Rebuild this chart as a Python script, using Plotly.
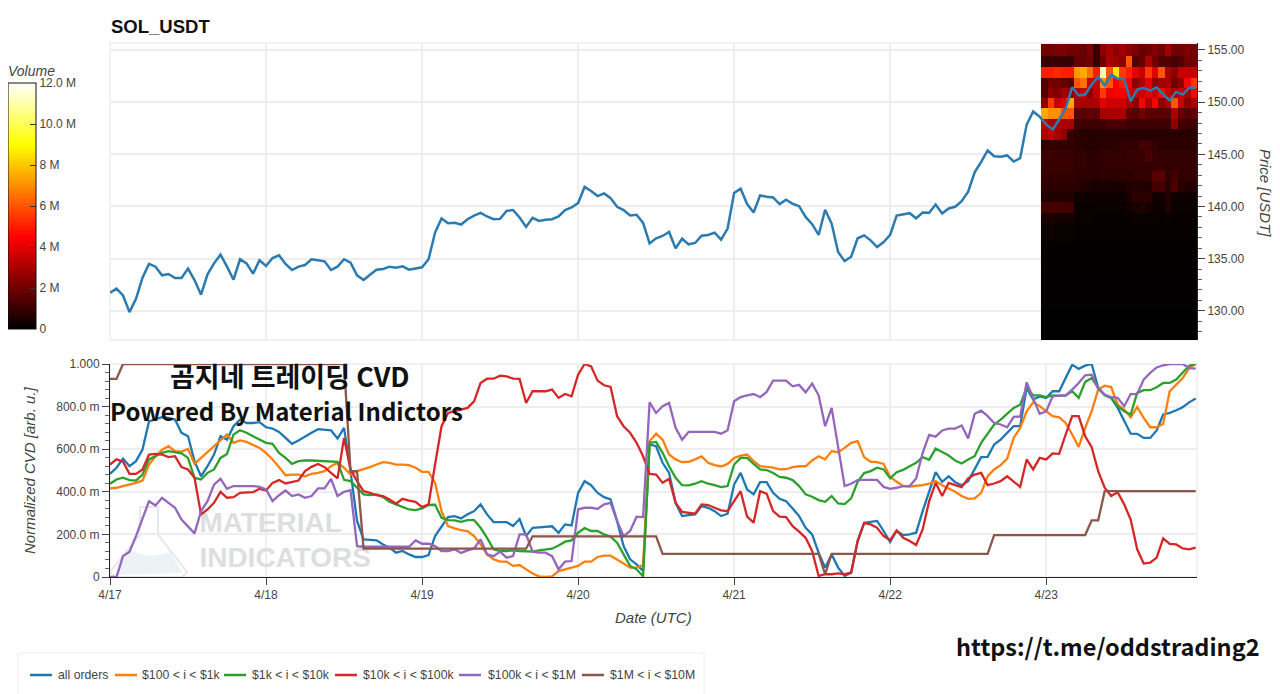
import pandas as pd
import plotly.graph_objects as go
from plotly.subplots import make_subplots

# hourly candles, 4/17 00:00 onwards
price = [131.73, 132.12, 131.47, 129.87, 131.15, 133.17, 134.49, 134.23, 133.40, 133.53, 133.14, 133.14,
         134.04, 132.95, 131.54, 133.49, 134.55, 135.38, 134.23, 132.98, 134.94, 134.55, 133.56, 134.84,
         134.29, 135.06, 135.32, 134.49, 133.91, 134.23, 134.39, 134.94, 134.84, 134.74, 133.91, 134.23,
         134.94, 134.62, 133.40, 132.95, 133.46, 133.94, 134.01, 134.23, 134.13, 134.26, 133.94, 134.04,
         134.17, 134.94, 137.50, 138.85, 138.40, 138.43, 138.27, 138.78, 139.13, 139.39, 139.04, 138.78,
         138.81, 139.58, 139.65, 138.94, 138.04, 138.91, 138.62, 138.72, 138.78, 139.04, 139.65, 139.90,
         140.32, 141.87, 141.48, 141.00, 141.25, 140.80, 139.97, 139.65, 139.13, 139.20, 138.42, 136.46,
         136.95, 137.17, 137.56, 135.98, 136.91, 136.37, 136.50, 137.20, 137.27, 137.49, 136.82, 137.88,
         141.29, 141.70, 140.23, 139.42, 141.06, 140.93, 140.87, 140.23, 140.64, 140.26, 140.03, 139.00,
         138.30, 137.27, 139.68, 138.36, 135.63, 134.76, 135.18, 136.95, 137.23, 136.75, 136.11, 136.59,
         137.27, 139.13, 139.23, 139.36, 138.87, 139.42, 139.39, 140.19, 139.32, 139.81, 139.97, 140.51,
         141.41, 143.28, 144.28, 145.37, 144.82, 144.76, 144.89, 144.31, 144.63, 147.85, 149.10, 148.60,
         147.87, 147.39, 148.34, 149.39, 151.43, 150.64, 150.73, 151.69, 152.42, 151.62, 152.64, 152.23,
         152.23, 150.06, 151.21, 151.37, 151.11, 151.43, 150.73, 150.16, 150.99, 150.73, 151.37, 151.37]

all_orders = [.484, .513, .556, .520, .544, .598, .731, .739, .750, .747, .739, .677, .661, .544, .473, .520,
              .575, .661, .645, .708, .739, .723, .723, .727, .703, .697, .681, .653, .625, .641, .661, .677,
              .694, .692, .688, .650, .700, .497, .263, .177, .173, .172, .153, .138, .114, .122, .106, .094,
              .094, .103, .192, .239, .281, .286, .275, .294, .309, .341, .294, .258, .258, .258, .239, .272,
              .192, .231, .233, .234, .238, .208, .247, .242, .395, .450, .431, .395, .375, .364, .263, .145,
              .083, .059, .028, .622, .614, .536, .489, .348, .286, .291, .294, .333, .325, .309, .286, .297,
              .434, .489, .411, .388, .445, .445, .395, .367, .356, .322, .286, .231, .200, .114, .044, .106,
              .044, .005, .020, .169, .255, .259, .263, .216, .164, .216, .197, .200, .208, .309, .403, .492,
              .447, .473, .445, .431, .450, .505, .563, .564, .622, .645, .677, .708, .708, .888, .833, .848,
              .841, .872, .872, .934, .997, .977, .992, 1.0, .888, .856, .841, .794, .731, .673, .672, .653,
              .653, .688, .763, .770, .783, .797, .820, .838]
orders_100_1k = [.416, .419, .427, .434, .442, .453, .528, .567, .598, .614, .591, .588, .602, .531, .559, .586,
                 .614, .645, .669, .630, .641, .634, .619, .606, .583, .552, .516, .478, .481, .481, .473, .484,
                 .489, .497, .520, .536, .513, .481, .497, .505, .516, .528, .539, .536, .528, .528, .525, .513,
                 .494, .494, .442, .309, .239, .228, .220, .216, .192, .153, .106, .083, .072, .072, .052, .056,
                 .036, .016, .003, 0, .003, .028, .036, .044, .052, .072, .072, .094, .100, .100, .083, .063,
                 .044, .044, .056, .638, .673, .645, .575, .552, .539, .541, .552, .566, .536, .525, .519, .531,
                 .559, .570, .575, .544, .520, .516, .513, .505, .506, .516, .520, .520, .547, .567, .552, .591,
                 .586, .606, .630, .638, .563, .541, .539, .531, .469, .447, .427, .425, .427, .431, .438, .450,
                 .431, .416, .400, .380, .367, .369, .395, .473, .505, .525, .556, .653, .700, .778, .820, .802,
                 .778, .755, .750, .723, .669, .611, .700, .778, .880, .898, .892, .809, .786, .750, .798, .747,
                 .703, .703, .719, .872, .903, .934, .981, 1.0]
orders_1k_10k = [.438, .458, .466, .455, .453, .481, .552, .567, .583, .591, .586, .581, .559, .466, .458, .489,
                 .505, .559, .578, .669, .689, .677, .661, .645, .630, .625, .583, .559, .531, .544, .548, .547,
                 .545, .544, .544, .541, .456, .450, .419, .388, .384, .388, .375, .353, .341, .330, .317, .314,
                 .322, .338, .339, .278, .267, .266, .259, .267, .267, .231, .184, .130, .122, .122, .125, .122,
                 .119, .119, .125, .130, .133, .148, .166, .172, .208, .230, .216, .216, .200, .189, .161, .106,
                 .052, .036, .003, .630, .634, .583, .520, .466, .431, .430, .438, .450, .438, .431, .422, .427,
                 .528, .559, .559, .531, .505, .502, .488, .470, .466, .455, .427, .388, .377, .361, .353, .380,
                 .345, .342, .369, .447, .488, .497, .513, .505, .463, .492, .503, .520, .536, .563, .550, .603,
                 .588, .570, .547, .533, .552, .567, .630, .672, .716, .739, .766, .794, .809, .888, .853, .853,
                 .845, .853, .850, .853, .872, .841, .916, .934, .888, .853, .841, .802, .778, .763, .864, .877,
                 .877, .891, .911, .911, .927, .958, .992, 1.0]
orders_10k_100k = [.528, .552, .541, .484, .484, .505, .575, .578, .575, .563, .567, .516, .505, .466, .294, .317,
                   .348, .400, .372, .375, .395, .398, .398, .414, .406, .442, .455, .439, .447, .453, .497, .517,
                   .531, .516, .489, .463, .653, .505, .450, .403, .395, .384, .380, .364, .344, .367, .359, .353,
                   .328, .341, .528, .708, .770, .778, .786, .794, .825, .911, .931, .931, .945, .942, .931, .930,
                   .817, .872, .872, .872, .880, .841, .859, .848, .950, 1.0, .989, .922, .900, .892, .755, .708,
                   .677, .630, .567, .484, .481, .442, .461, .348, .306, .302, .297, .341, .338, .325, .313, .309,
                   .356, .403, .283, .255, .403, .391, .309, .283, .281, .239, .213, .184, .122, .005, .013, .013,
                   .017, .013, .020, .169, .253, .247, .231, .192, .173, .219, .184, .169, .150, .223, .356, .442,
                   .380, .442, .431, .422, .463, .481, .489, .431, .439, .450, .473, .450, .423, .552, .505, .559,
                   .552, .580, .578, .669, .755, .755, .661, .609, .497, .419, .380, .398, .341, .270, .130, .063,
                   .067, .091, .181, .156, .153, .134, .130, .138]
orders_100k_1m = [0, 0, .098, .119, .192, .270, .356, .336, .372, .348, .325, .270, .239, .205, .309, .356,
                  .434, .461, .414, .427, .427, .427, .427, .423, .411, .356, .384, .406, .380, .388, .372, .380,
                  .416, .416, .461, .380, .400, .408, .145, .142, .142, .142, .142, .142, .142, .142, .142, .172,
                  .156, .156, .145, .122, .122, .130, .113, .125, .134, .177, .106, .098, .119, .091, .098, .200,
                  .200, .119, .114, .114, .098, .036, .072, .075, .317, .325, .325, .320, .341, .348, .263, .192,
                  .216, .283, .281, .820, .770, .802, .817, .700, .645, .681, .681, .681, .681, .681, .673, .689,
                  .825, .845, .853, .859, .844, .869, .922, .923, .922, .895, .902, .867, .908, .853, .708, .794,
                  .606, .427, .438, .455, .456, .456, .456, .423, .414, .419, .427, .427, .463, .583, .667, .659,
                  .688, .697, .697, .711, .650, .766, .781, .755, .723, .716, .703, .752, .753, .914, .841, .766,
                  .778, .848, .852, .852, .880, .911, .947, .950, .883, .856, .844, .841, .802, .859, .859, .927,
                  .958, .984, .994, 1.0, 1.0, 1.0, .981, .978]
# the biggest bucket only moves in steps, so only its corners are listed
step_hours = [0, 1, 2, 36, 37, 38, 39, 64, 65, 84, 85, 109, 110, 111, 135, 136, 150, 151, 152, 153, 167]
orders_1m_10m = [.930, .930, 1.0, 1.0, .497, .497, .133, .133, .191, .191, .109, .109, .013, .109, .109, .197,
                 .197, .266, .266, .403, .403]

series_names = ["all orders", "$100 < i < $1k", "$1k < i < $10k", "$10k < i < $100k", "$100k < i < $1M", "$1M < i < $10M"]
series_colors = ["#1f77b4", "#ff7f0e", "#2ca02c", "#d62728", "#9467bd", "#8c564b"]

# order book heatmap, last 24 hours, values in millions
heat_prices = [127.6, 132.5, 135.5, 137.9, 138.9, 139.9, 140.9, 141.9, 142.9, 143.9, 144.9, 145.9,
               146.9, 147.9, 148.9, 149.9, 150.85, 151.8, 152.8, 153.85, 155.0]
heat_z = [
    [.02] * 24,
    [.04] * 24,
    [.07] * 24,
    [.2, .3, .2, .15, .15, .1, .1, .1, .1, .1, .1, .1, .1, .1, .1, .1, .1, .1, .1, .1, .1, .1, .1, .1],
    [.5, .5, .4, .4, .4, .15, .15, .15, .1, .1, .1, .1, .1, .1, .15, .15, .15, .15, .1, .2, .1, .1, .1, .1],
    [1.2, 1.2, 1.2, 1.2, 1.1, .2, .2, .2, .15, .15, .15, .15, .2, .3, .5, .6, .4, .2, .2, .6, .2, .15, .15, .15],
    [.6, .6, .6, .6, .6, .25, .25, .25, .25, .25, .25, .25, .3, .5, .8, .7, .8, .3, .4, .6, .3, .25, .25, .25],
    [.8, .8, .8, .8, .8, .8, .6, .5, .4, .5, .4, .4, .5, .6, .7, .6, .6, 1.2, 1.2, .7, 1.3, .7, .6, .6],
    [.9, .9, .9, .9, .9, .8, .8, .8, .7, .8, .8, .8, .8, .8, .9, .9, .9, 1.6, 1.6, .9, 1.2, .9, .9, .9],
    [1.0, 1.0, 1.0, 1.0, 1.0, .9, .9, .8, .8, .9, .9, .9, .9, .9, .9, .9, .9, 1.0, 1.0, .9, .9, .9, .9, .9],
    [1.0, 1.1, 1.0, 1.0, 1.0, .9, .9, .8, .8, .9, .9, .9, .9, 1.0, 1.0, 1.0, 1.3, 1.0, .9, .9, .9, .9, .9, .9],
    [.8, .9, .9, .9, .9, .8, .7, .6, .7, .8, .8, .8, .9, .9, .9, 1.2, 1.1, .9, .8, .8, .8, .8, .8, .8],
    [3.0, 3.4, 3.0, 2.5, 1.0, .8, .7, .7, .7, .7, .7, .7, .7, .7, .7, .7, .7, .7, .7, .7, .7, .7, .7, .7],
    [3.5, 3.0, 3.0, 3.0, 3.0, 1.1, 1.1, 1.1, 1.1, 1.1, 1.3, 1.3, 1.3, 1.1, 1.1, 1.1, 1.1, 1.1, 1.1, 1.1, 2.5, 1.1, 1.1, 1.1],
    [7.5, 7.0, 7.0, 6.0, 6.0, 1.6, 1.6, 1.8, 1.6, 3.0, 3.0, 3.0, 3.0, 1.8, 1.6, 2.0, 1.6, 1.6, 1.6, 1.6, 3.0, 1.8, 1.5, 1.8],
    [2.5, 5.5, 3.5, 4.0, 7.5, 3.0, 3.0, 3.0, 3.0, 4.0, 3.6, 3.6, 3.6, 3.0, 2.5, 4.5, 3.0, 4.5, 2.5, 3.0, 6.0, 3.5, 2.5, 3.0],
    [1.5, 2.5, 2.2, 2.8, 2.5, 3.0, 3.5, 2.5, 3.5, 5.5, 4.2, 4.5, 4.5, 3.8, 3.5, 3.5, 4.0, 3.5, 4.5, 3.5, 3.0, 3.5, 3.0, 4.5],
    [1.5, 2.0, 2.0, 1.8, 1.5, 6.0, 6.5, 3.5, 3.5, 7.0, 6.0, 4.5, 5.0, 4.5, 2.5, 3.0, 4.0, 2.5, 2.8, 3.0, 2.0, 2.5, 4.5, 5.5],
    [5.0, 5.0, 5.2, 5.0, 5.0, 7.2, 7.5, 6.5, 5.0, 11.0, 6.0, 8.5, 5.5, 5.0, 4.0, 3.5, 5.5, 4.0, 6.0, 3.0, 2.5, 3.5, 3.5, 3.5],
    [1.0, 1.0, 1.0, 1.0, 1.0, 1.8, 1.8, 2.0, 1.0, 2.0, 3.0, 2.8, 2.5, 6.0, 1.5, 1.8, 3.0, 2.0, 1.5, 1.5, 1.3, 1.5, 2.0, 2.0],
    [2.0, 2.0, 2.2, 2.2, 2.0, 2.0, 1.8, 2.2, 1.0, 2.5, 3.0, 2.5, 2.8, 2.5, 2.2, 1.8, 2.0, 2.3, 2.0, 2.8, 2.0, 2.0, 2.2, 2.0],
]
heat_scale = [[0, "#000000"], [0.375, "#ff0000"], [0.75, "#ffff00"], [1, "#ffffff"]]
volume_ticks = [0, 2, 4, 6, 8, 10, 12]
volume_labels = ["0", "2 M", "4 M", "6 M", "8 M", "10.0 M", "12.0 M"]

cvd_ticks = [0, .2, .4, .6, .8, 1]
cvd_labels = ["0", "200.0 m", "400.0 m", "600.0 m", "800.0 m", "1.000"]

times = pd.date_range("2024-04-17 00:00", periods=168, freq="h")
heat_times = pd.date_range("2024-04-22 23:42", periods=24, freq="h")
x_range = ["2024-04-17 00:00", "2024-04-23 23:12"]

GREY = "#444444"
GRID = "#eeeeee"
TEXT = "Liberation Sans"
# page pixels of the plot area; the page body adds an 8px margin around the figure
L, R, T, B = 110, 1197, 43, 577
# legend sample and label starts, in page pixels
legend_lines = [30, 115, 224, 335, 459, 582]
legend_texts = [56, 140, 250, 361, 486, 608]


def px(x):
    return (x - L) / (R - L)


def py(y):
    return (B - y) / (B - T)


def axis_title(size=15):
    return dict(family=TEXT, size=size, color=GREY, style="italic")


fig = make_subplots(rows=2, cols=1, shared_xaxes=True)

fig.add_trace(go.Heatmap(
    x=heat_times, y=heat_prices, z=heat_z, zmin=0, zmax=12, colorscale=heat_scale, hoverinfo="skip",
    colorbar=dict(
        x=px(8), xanchor="left", y=py(329), yanchor="bottom",
        lenmode="pixels", len=246, thickness=28, xpad=0, ypad=0,
        outlinecolor="#111111", outlinewidth=1,
        tickmode="array", tickvals=volume_ticks, ticktext=volume_labels,
        ticks="inside", ticklen=6, tickcolor="#333333", tickfont=dict(family=TEXT, size=12, color=GREY),
    ),
), row=1, col=1)
fig.add_trace(go.Scatter(x=times, y=price, mode="lines", line=dict(color="#2b7bb0", width=2.5),
                         showlegend=False), row=1, col=1)

# watermark sits under the lines
fig.add_trace(go.Scatter(x=["2024-04-17 13:45", "2024-04-17 13:45"], y=[.244, .08], mode="text",
                         text=["MATERIAL", "INDICATORS"], textposition="middle right",
                         textfont=dict(family=TEXT, size=28, color="#dcdee0", weight="bold"),
                         showlegend=False, hoverinfo="skip"), row=2, col=1)

for name, color, values in zip(series_names, series_colors,
                               [all_orders, orders_100_1k, orders_1k_10k, orders_10k_100k, orders_100k_1m]):
    fig.add_trace(go.Scatter(x=times, y=values, mode="lines", name=name, line=dict(color=color, width=2.3),
                             showlegend=False), row=2, col=1)
fig.add_trace(go.Scatter(x=times[step_hours], y=orders_1m_10m, mode="lines", name=series_names[5],
                         line=dict(color=series_colors[5], width=2.3), showlegend=False), row=2, col=1)

fig.update_layout(
    width=1272, height=686, autosize=False,
    margin=dict(l=L - 8, r=1280 - R, t=T - 8, b=694 - B, pad=0, autoexpand=False),
    paper_bgcolor="white", plot_bgcolor="white",
    font=dict(family=TEXT, size=12, color=GREY),
    showlegend=False,
    xaxis=dict(domain=[0, 1], range=x_range, showticklabels=False, ticks="", showgrid=True, gridcolor=GRID,
               gridwidth=1.5, dtick=86400000, tick0="2024-04-17", zeroline=False),
    xaxis2=dict(domain=[0, 1], range=x_range, dtick=86400000, tick0="2024-04-17", tickformat="%-m/%-d",
                showgrid=True, gridcolor=GRID, gridwidth=1.5, showline=True, linecolor="#222222", linewidth=1,
                ticks="outside", ticklen=7, tickcolor="#444444", tickfont=dict(family=TEXT, size=12, color=GREY)),
    yaxis=dict(domain=[py(340), 1], side="right", range=[127.2, 155.67], dtick=5, tick0=130, tickformat=".2f",
               showgrid=True, gridcolor=GRID, gridwidth=1.5, zeroline=False, showline=True, linecolor="#222222",
               linewidth=1, ticks="outside", ticklen=7, tickcolor="#444444",
               tickfont=dict(family=TEXT, size=12, color=GREY),
               minor=dict(dtick=1, ticks="outside", ticklen=4, tickcolor="#666666", showgrid=False)),
    yaxis2=dict(domain=[0, py(364)], range=[0, 1], tickmode="array", tickvals=cvd_ticks, ticktext=cvd_labels,
                showgrid=True, gridcolor=GRID, gridwidth=1.5, zeroline=False, showline=True, linecolor="#222222",
                linewidth=1, ticks="outside", ticklen=7, tickcolor="#444444",
                tickfont=dict(family=TEXT, size=12, color=GREY),
                minor=dict(tickmode="array", tickvals=[i / 25 for i in range(26)], ticks="outside", ticklen=4,
                           tickcolor="#666666", showgrid=False)),
)


def page_path(points):
    return "M " + " L ".join(f"{px(a):.4f},{py(b):.4f}" for a, b in points) + " Z"


# panel outlines, flask behind the watermark, legend box and samples
shapes = [
    dict(type="rect", xref="x domain", yref="y domain", x0=0, x1=1, y0=0, y1=1, line=dict(color=GRID, width=1.5), layer="below"),
    dict(type="rect", xref="x2 domain", yref="y2 domain", x0=0, x1=1, y0=0, y1=1, line=dict(color=GRID, width=1.5), layer="below"),
    dict(type="path", xref="paper", yref="paper", layer="below", fillcolor="rgba(0,0,0,0)",
         path=page_path([(140, 507), (158, 507), (158, 535), (187, 572), (182, 577), (115, 577), (110, 572), (140, 535)]),
         line=dict(color="#e6e8ea", width=2)),
    dict(type="path", xref="paper", yref="paper", layer="below", fillcolor="#edf3f5", line=dict(width=0),
         path=page_path([(128, 550), (150, 556), (170, 552), (183, 573), (115, 575)])),
    dict(type="rect", xref="paper", yref="paper", x0=px(18), x1=px(704), y0=py(653), y1=py(700),
         line=dict(color="#eeeeee", width=1), fillcolor="white"),
    dict(type="rect", xref="paper", yref="paper", x0=px(1277), x1=px(1281), y0=py(33), y1=py(68),
         line=dict(width=0), fillcolor="#8cc3e0"),
    dict(type="rect", xref="paper", yref="paper", x0=px(1277), x1=px(1281), y0=py(210), y1=py(237),
         line=dict(width=0), fillcolor="#8cc3e0"),
]
for start, color in zip(legend_lines, series_colors):
    shapes.append(dict(type="line", xref="paper", yref="paper", x0=px(start), x1=px(start + 22), y0=py(675), y1=py(675),
                       line=dict(color=color, width=2.5)))
fig.update_layout(shapes=shapes)

annotations = [
    dict(text="<b>SOL_USDT</b>", x=px(109), y=py(27), xanchor="left", font=dict(family=TEXT, size=18.5, color="#111111")),
    dict(text="<b>곰지네 트레이딩 CVD</b>", x=px(290), y=py(375.5), xanchor="center",
         font=dict(family="Noto Sans CJK KR", size=27, color="#111111")),
    dict(text="<b>Powered By Material Indictors</b>", x=px(108), y=py(410), xanchor="left",
         font=dict(family="Noto Sans CJK KR", size=24, color="#111111")),
    dict(text="<b>https://t.me/oddstrading2</b>", x=px(954), y=py(646), xanchor="left",
         font=dict(family="Noto Sans CJK KR", size=23.5, color="#111111")),
    dict(text="Volume", x=px(6), y=py(71.5), xanchor="left", font=axis_title(14)),
    dict(text="Normalized CVD [arb. u.]", x=px(29), y=py(470), xanchor="center", textangle=-90, font=axis_title()),
    dict(text="Date (UTC)", x=px(653), y=py(617), xanchor="center", font=axis_title()),
    dict(text="Price [USDT]", x=px(1266), y=py(193), xanchor="center", textangle=90, font=axis_title()),
]
for name, start in zip(series_names, legend_texts):
    annotations.append(dict(text=name, x=px(start), y=py(675), xanchor="left",
                            font=dict(family=TEXT, size=12.25, color=GREY)))
for a in annotations:
    a.update(xref="paper", yref="paper", yanchor="middle", showarrow=False)
fig.update_layout(annotations=annotations)

fig.write_html("out.html")
